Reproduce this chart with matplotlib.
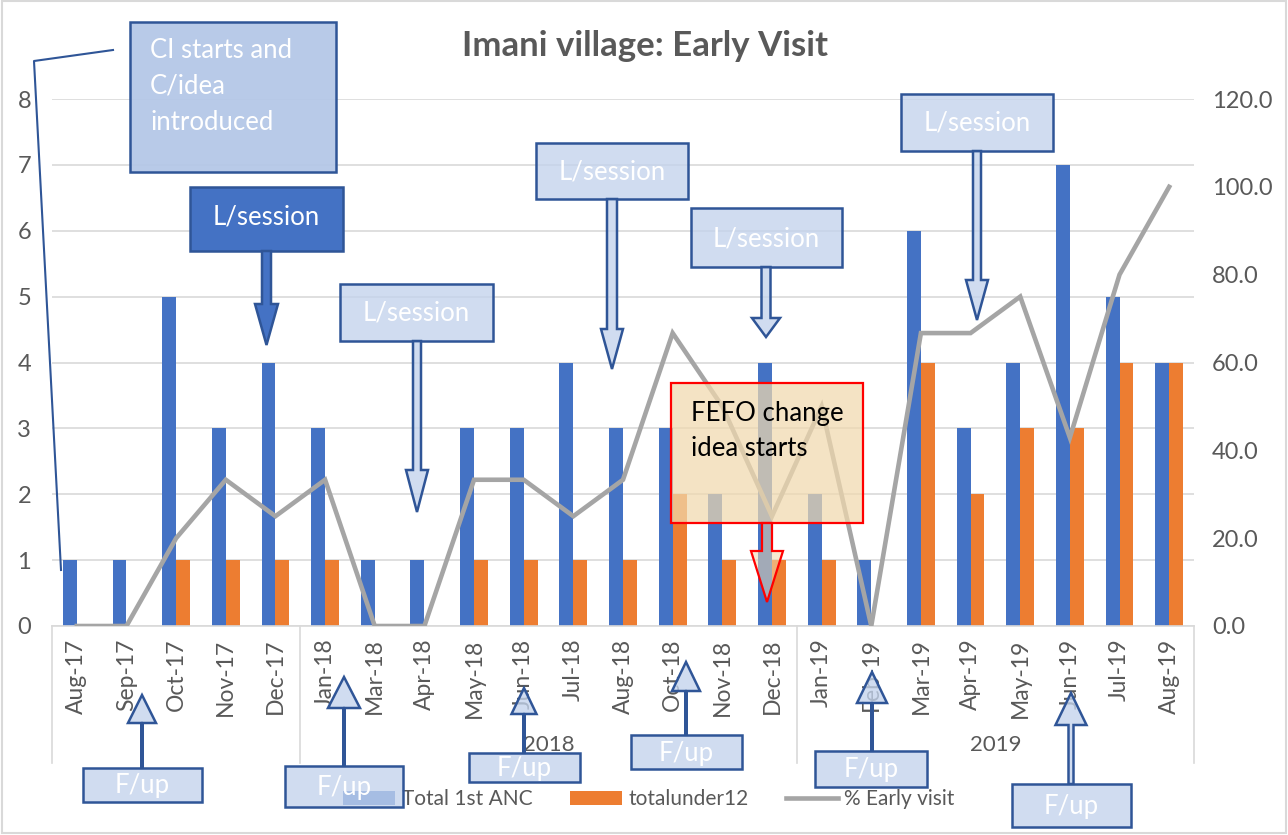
import matplotlib
matplotlib.use("Agg")
import matplotlib.pyplot as plt
import numpy as np
from matplotlib.patches import Rectangle, Polygon
from matplotlib.lines import Line2D
import matplotlib.transforms as mtransforms
from matplotlib.colors import to_rgba

plt.rcParams['font.family'] = ['Lato', 'DejaVu Sans']

# ---------------- data ----------------
months = ["Aug-17", "Sep-17", "Oct-17", "Nov-17", "Dec-17", "Jan-18", "Mar-18", "Apr-18",
          "May-18", "Jun-18", "Jul-18", "Aug-18", "Oct-18", "Nov-18", "Dec-18", "Jan-19",
          "Feb-19", "Mar-19", "Apr-19", "May-19", "Jun-19", "Jul-19", "Aug-19"]
total_anc = [1, 1, 5, 3, 4, 3, 1, 1, 3, 3, 4, 3, 3, 2, 4, 2, 1, 6, 3, 4, 7, 5, 4]
under12 = [0, 0, 1, 1, 1, 1, 0, 0, 1, 1, 1, 1, 2, 1, 1, 1, 0, 4, 2, 3, 3, 4, 4]
pct_early = [0.0, 0.0, 20.0, 33.3, 25.0, 33.3, 0.0, 0.0, 33.3, 33.3, 25.0, 33.3, 66.7,
             50.0, 25.0, 50.0, 0.0, 66.7, 66.7, 75.0, 42.9, 80.0, 100.0]
year_groups = [("", 0, 4), ("2018", 5, 14), ("2019", 15, 22)]
left_ticks = list(range(0, 9))
right_ticks = [0, 20, 40, 60, 80, 100, 120]

W, H = 1288, 835
fig = plt.figure(figsize=(W / 100, H / 100), dpi=100)
TXT = '#595959'
GRID = '#D9D9D9'

def fx(x):
    return x / W

def fy(y):
    return 1 - y / H

ax = fig.add_axes([fx(52), fy(626), fx(1194) - fx(52), (626 - 99) / H])
x = np.arange(len(months))
bw = 0.28
ax.bar(x - bw / 2, total_anc, bw, color='#4472C4', label='Total 1st ANC', zorder=2)
ax.bar(x + bw / 2, under12, bw, color='#ED7D31', label='totalunder12', zorder=2)
ax.set_xlim(-0.5, len(months) - 0.5)
ax.set_ylim(0, 8)
ax.set_yticks(left_ticks)
ax.yaxis.grid(True, color=GRID, lw=1.2, zorder=0)
ax.set_axisbelow(True)
for s in ['top', 'right', 'left']:
    ax.spines[s].set_visible(False)
ax.spines['bottom'].set_color(GRID)
ax.spines['bottom'].set_linewidth(1.2)
ax.set_xticks(x)
ax.set_xticklabels(months, rotation=90, fontsize=16.5, color=TXT)
ax.tick_params(axis='x', length=0, pad=9)
ax.tick_params(axis='y', length=0, labelsize=17, labelcolor=TXT, pad=15)

ax2 = ax.twinx()
ax2.plot(x, pct_early, color='#A5A5A5', lw=3.3, label='% Early visit', zorder=3,
         solid_joinstyle='miter')
ax2.set_ylim(0, 120)
ax2.set_yticks(right_ticks)
ax2.set_yticklabels([f"{v:.1f}" for v in right_ticks])
ax2.tick_params(axis='y', length=0, labelsize=17, labelcolor=TXT, pad=13)
for s in ax2.spines.values():
    s.set_visible(False)

# multi-level category axis
bt = mtransforms.blended_transform_factory(ax.transData, fig.transFigure)
for xb in [-0.5, 4.5, 14.5, len(months) - 0.5]:
    fig.add_artist(Line2D([xb, xb], [fy(626), fy(763)], transform=bt, color=GRID, lw=1.2))
for name, a, b in year_groups:
    if name:
        fig.text((a + b) / 2, fy(745), name, transform=bt, ha='center', va='center',
                 fontsize=16, color=TXT)

fig.text(fx(645), fy(46), "Imani village: Early Visit", ha='center', va='center',
         fontsize=25, fontweight='bold', color=TXT)

h1, l1 = ax.get_legend_handles_labels()
h2, l2 = ax2.get_legend_handles_labels()
fig.legend(h1 + h2, l1 + l2, loc='center', bbox_to_anchor=(fx(649), fy(799)), ncol=3,
           frameon=False, fontsize=15, labelcolor=TXT, handlelength=2.5, handleheight=0.65,
           handletextpad=0.3, columnspacing=1.8)

# chart border
fig.add_artist(Rectangle((fx(2), fy(833)), fx(1286) - fx(2), fy(1) - fy(833),
                         transform=fig.transFigure, fill=False, ec=GRID, lw=1.5))

# ---------------- annotations ----------------
EDGE = '#2F5597'
LIGHT = '#C3D3EC'

def box_a(x0, y0, x1, y1, fc, alpha, ec=EDGE, lw=1.8):
    r = Rectangle((fx(x0), fy(y1)), fx(x1) - fx(x0), fy(y0) - fy(y1),
                  transform=fig.transFigure, fc=to_rgba(fc, alpha),
                  ec=ec, lw=lw, zorder=10)
    fig.add_artist(r)

def arrow_down(xc, y0, yb, ytip, sw, hw, fc, alpha, ec=EDGE, lw=1.8):
    pts = [(xc - sw / 2, y0), (xc + sw / 2, y0), (xc + sw / 2, yb), (xc + hw / 2, yb),
           (xc, ytip), (xc - hw / 2, yb), (xc - sw / 2, yb)]
    p = Polygon([(fx(a), fy(b)) for a, b in pts], closed=True, transform=fig.transFigure,
                fc=to_rgba(fc, alpha), ec=ec, lw=lw, zorder=10, joinstyle='miter')
    fig.add_artist(p)

def label(xc, yc, s, color='white', size=18.5, ha='center'):
    fig.text(fx(xc), fy(yc), s, ha=ha, va='center', fontsize=size, color=color, zorder=11)

# CI starts box and its bracket line
fig.add_artist(Line2D([fx(113), fx(34), fx(61)], [fy(50), fy(61), fy(570)],
                      transform=fig.transFigure, color=EDGE, lw=1.5, zorder=10))
box_a(130, 22, 336, 172, '#B4C7E7', 0.95)
for line, yy in zip(["CI starts and", "C/idea", "introduced"], [51, 86, 122]):
    label(150, yy, line, ha='left')

# L/session boxes
box_a(190, 187, 343, 251, '#4472C4', 1.0)
arrow_down(266.5, 251, 304, 345, 9, 23, '#4472C4', 1.0)
label(266, 217, "L/session")

sessions = [
    (340, 284, 493, 341, 417, 470, 512, 8, 22),
    (536, 143, 688, 199, 612, 329, 369, 10, 22),
    (691, 208, 842, 267, 766, 318, 337, 9, 28),
    (901, 94, 1053, 151, 977, 280, 320, 8, 22),
]
for x0, y0, x1, y1, xc, yb, yt, sw, hw in sessions:
    box_a(x0, y0, x1, y1, LIGHT, 0.78)
    arrow_down(xc, y1, yb, yt, sw, hw, LIGHT, 0.78)
    label((x0 + x1) / 2, (y0 + y1) / 2 + 1, "L/session")

# FEFO box
box_a(671, 383, 863, 523, '#F1D9AE', 0.72, ec='#FF0000', lw=1.6)
arrow_down(767, 523, 551, 602, 10, 32, '#F1D9AE', 0.55, ec='#FF0000', lw=1.6)
for line, yy in zip(["FEFO change", "idea starts"], [413, 448]):
    label(691, yy, line, color='black', ha='left')

# F/up boxes with up arrows
fups = [
    (83, 768, 202, 802, 142, 723, 695, 28),
    (285, 766, 403, 807, 344, 708, 677, 32),
    (469, 753, 580, 782, 524, 714, 688, 25),
    (631, 735, 742, 769, 686, 691, 662, 28),
    (815, 751, 927, 787, 872, 703, 672, 30),
    (1012, 784, 1131, 827, 1071, 725, 693, 31),
]
for x0, y0, x1, y1, xc, yb, yt, hw in fups:
    sw = 5 if x0 > 1000 else 1.5
    pts = [(xc - sw / 2, y0), (xc + sw / 2, y0), (xc + sw / 2, yb), (xc + hw / 2, yb),
           (xc, yt), (xc - hw / 2, yb), (xc - sw / 2, yb)]
    fig.add_artist(Polygon([(fx(a), fy(b)) for a, b in pts], closed=True,
                           transform=fig.transFigure, fc=to_rgba(LIGHT, 0.78), ec=EDGE,
                           lw=1.8, zorder=10, joinstyle='miter'))
    box_a(x0, y0, x1, y1, LIGHT, 0.78)
    label((x0 + x1) / 2, (y0 + y1) / 2 + 1, "F/up")

fig.savefig("out.png", dpi=100)
